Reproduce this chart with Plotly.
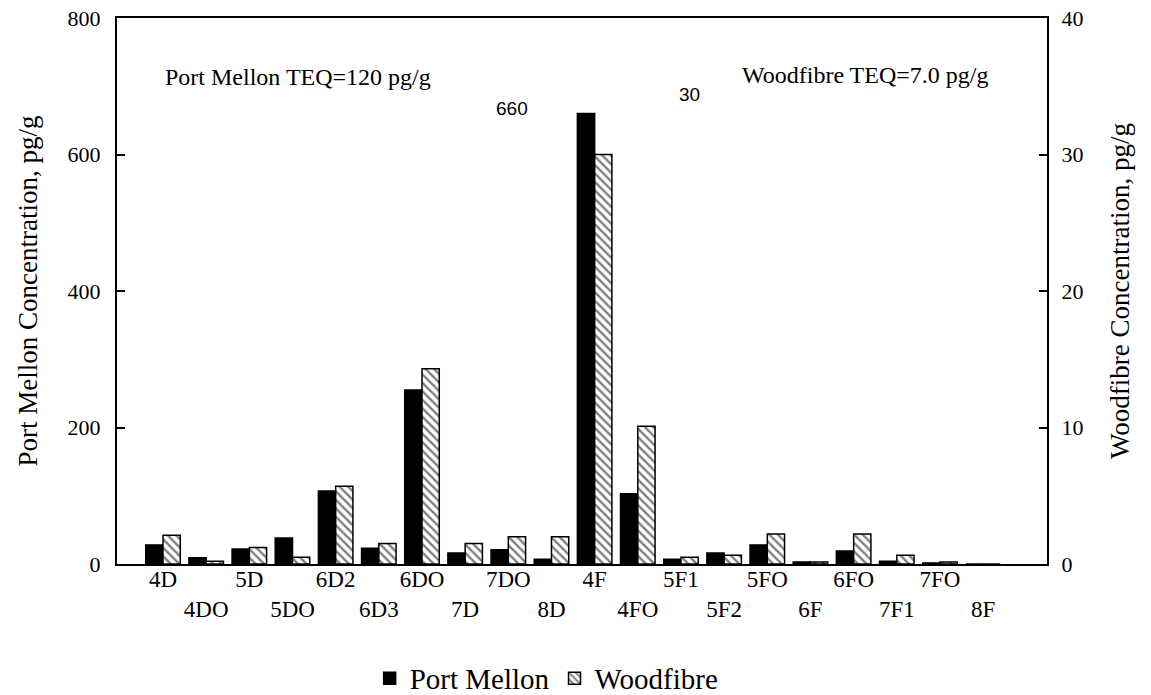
import plotly.graph_objects as go

# Congener categories (D = dioxins, F = furans)
congeners = ["4D", "4DO", "5D", "5DO", "6D2", "6D3", "6DO", "7D", "7DO", "8D",
             "4F", "4FO", "5F1", "5F2", "5FO", "6F", "6FO", "7F1", "7FO", "8F"]

# Port Mellon concentrations, pg/g (left axis)
port_mellon = [28, 9, 22, 38, 107, 23, 255, 16, 21, 7,
               660, 103, 7, 16, 28, 3, 19, 4, 1.5, 0]

# Woodfibre concentrations, pg/g (right axis)
woodfibre = [2.1, 0.2, 1.2, 0.5, 5.7, 1.5, 14.3, 1.5, 2.0, 2.0,
             30, 10.1, 0.5, 0.65, 2.2, 0.15, 2.2, 0.65, 0.15, 0]

pm_teq = "Port Mellon TEQ=120 pg/g"
wf_teq = "Woodfibre TEQ=7.0 pg/g"

left_ticks = [0, 200, 400, 600, 800]
right_ticks = [0, 10, 20, 30, 40]

SERIF = "Liberation Serif"
SANS = "Liberation Sans"

# staggered category labels: odd positions drop to a second row
tick_text = [c if i % 2 == 0 else "<br>" + c for i, c in enumerate(congeners)]

bar_w = 0.40
fig = go.Figure()
fig.add_trace(go.Bar(
    x=congeners, y=port_mellon, name="Port Mellon",
    width=bar_w, offset=-bar_w,
    marker=dict(color="black", line=dict(color="black", width=1.5)),
    yaxis="y",
))
fig.add_trace(go.Bar(
    x=congeners, y=woodfibre, name="Woodfibre",
    width=bar_w, offset=0,
    marker=dict(color="white", line=dict(color="black", width=1.5),
                pattern=dict(shape="\\", fgcolor="black", bgcolor="white",
                             size=6, solidity=0.4)),
    yaxis="y2",
))

i4f = congeners.index("4F")
annotations = [
    dict(text=pm_teq, x=0.049, y=0.892, xref="paper", yref="paper",
         xanchor="left", yanchor="middle", showarrow=False,
         font=dict(family=SERIF, size=24, color="black")),
    dict(text=wf_teq, x=0.670, y=0.896, xref="paper", yref="paper",
         xanchor="left", yanchor="middle", showarrow=False,
         font=dict(family=SERIF, size=24, color="black")),
    dict(text=f"{port_mellon[i4f]:g}", x=0.4247, y=0.835, xref="paper", yref="paper",
         xanchor="center", yanchor="middle", showarrow=False,
         font=dict(family=SANS, size=19, color="black")),
    dict(text=f"{woodfibre[i4f]:g}", x=0.616, y=0.859, xref="paper", yref="paper",
         xanchor="center", yanchor="middle", showarrow=False,
         font=dict(family=SANS, size=19, color="black")),
]

fig.update_layout(
    width=1151, height=695,
    margin=dict(l=117, r=104, t=18, b=131, autoexpand=False),
    paper_bgcolor="white", plot_bgcolor="white",
    font=dict(family=SERIF, color="black"),
    showlegend=True,
    legend=dict(orientation="h", x=0.462, y=0.024, yref="container",
                xanchor="center", yanchor="middle",
                font=dict(family=SERIF, size=29, color="black"),
                itemwidth=30, tracegroupgap=0),
    xaxis=dict(
        type="category", range=[-1.066, 20.48],
        tickmode="array", tickvals=congeners, ticktext=tick_text,
        tickangle=0,
        ticks="", showgrid=False, zeroline=False,
        showline=True, linecolor="black", linewidth=2, mirror=True,
        tickfont=dict(family=SERIF, size=23, color="black"),
        ticklabelstandoff=-7,
    ),
    yaxis=dict(
        range=[0, 800], tickmode="array", tickvals=left_ticks,
        ticks="inside", ticklen=8, tickwidth=2, tickcolor="black",
        showgrid=False, zeroline=False,
        showline=True, linecolor="black", linewidth=2,
        tickfont=dict(family=SERIF, size=22, color="black"),
        ticklabelstandoff=10,
        title=dict(text="Port Mellon Concentration, pg/g",
                   font=dict(family=SERIF, size=27, color="black"), standoff=22),
    ),
    yaxis2=dict(
        range=[0, 40], tickmode="array", tickvals=right_ticks,
        overlaying="y", side="right",
        ticks="inside", ticklen=8, tickwidth=2, tickcolor="black",
        showgrid=False, zeroline=False,
        showline=True, linecolor="black", linewidth=2,
        tickfont=dict(family=SERIF, size=22, color="black"),
        ticklabelstandoff=8,
        title=dict(text="Woodfibre Concentration, pg/g",
                   font=dict(family=SERIF, size=27, color="black"), standoff=28),
    ),
    annotations=annotations,
)

fig.write_html("out.html")
